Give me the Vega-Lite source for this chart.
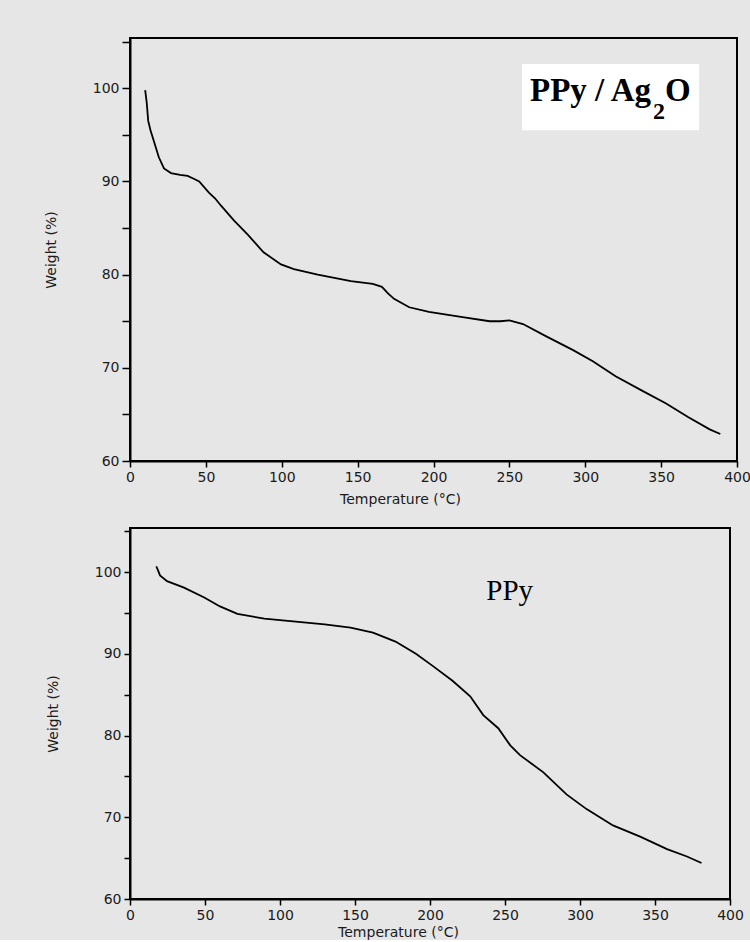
{
  "$schema": "https://vega.github.io/schema/vega-lite/v6.json",
  "background": "#e6e6e6",
  "padding": {"left": 43, "top": 33, "right": 0, "bottom": 0},
  "spacing": 16,
  "datasets": {
    "ag": [
      {"T": 10, "W": 99.8}, {"T": 11, "W": 98.5}, {"T": 12, "W": 96.5}, {"T": 13.5, "W": 95.5},
      {"T": 15.8, "W": 94.3}, {"T": 19, "W": 92.6}, {"T": 22.4, "W": 91.4}, {"T": 27, "W": 90.9},
      {"T": 33, "W": 90.7}, {"T": 38, "W": 90.6}, {"T": 42, "W": 90.3}, {"T": 45.6, "W": 90.0},
      {"T": 52, "W": 88.8}, {"T": 56, "W": 88.2}, {"T": 60, "W": 87.4}, {"T": 68.6, "W": 85.8},
      {"T": 77.6, "W": 84.3}, {"T": 88, "W": 82.4}, {"T": 99.5, "W": 81.1}, {"T": 108, "W": 80.6},
      {"T": 123.7, "W": 80.0}, {"T": 145.6, "W": 79.3}, {"T": 160, "W": 79.0}, {"T": 166, "W": 78.7},
      {"T": 170, "W": 78.0}, {"T": 174, "W": 77.4}, {"T": 184, "W": 76.5}, {"T": 197, "W": 76.0},
      {"T": 217, "W": 75.5}, {"T": 237, "W": 75.0}, {"T": 244, "W": 75.0}, {"T": 250, "W": 75.1},
      {"T": 259, "W": 74.7}, {"T": 274, "W": 73.4}, {"T": 292, "W": 71.9}, {"T": 305, "W": 70.7},
      {"T": 320, "W": 69.1}, {"T": 338, "W": 67.5}, {"T": 353, "W": 66.2}, {"T": 368, "W": 64.7},
      {"T": 382, "W": 63.4}, {"T": 389, "W": 62.9}
    ],
    "ppy": [
      {"T": 17.5, "W": 100.7}, {"T": 18.5, "W": 100.3}, {"T": 20, "W": 99.6}, {"T": 24.7, "W": 98.9},
      {"T": 36, "W": 98.1}, {"T": 49.5, "W": 96.9}, {"T": 60, "W": 95.8}, {"T": 71.6, "W": 94.9},
      {"T": 89.6, "W": 94.3}, {"T": 107, "W": 94.0}, {"T": 129.8, "W": 93.6}, {"T": 147, "W": 93.2},
      {"T": 162, "W": 92.6}, {"T": 177, "W": 91.5}, {"T": 190.6, "W": 90.0}, {"T": 202, "W": 88.5},
      {"T": 215, "W": 86.7}, {"T": 226.8, "W": 84.8}, {"T": 235.5, "W": 82.5}, {"T": 245.5, "W": 80.9},
      {"T": 253.5, "W": 78.8}, {"T": 260, "W": 77.6}, {"T": 275.6, "W": 75.5}, {"T": 291, "W": 72.8},
      {"T": 304.4, "W": 71.0}, {"T": 322, "W": 69.0}, {"T": 340.5, "W": 67.6}, {"T": 358, "W": 66.1},
      {"T": 371.3, "W": 65.2}, {"T": 381, "W": 64.4}
    ]
  },
  "config": {
    "view": {"stroke": "black", "strokeWidth": 2},
    "axis": {
      "labelFont": "DejaVu Sans", "labelFontSize": 14, "labelColor": "#1a1a1a",
      "titleFont": "DejaVu Sans", "titleFontSize": 14, "titleFontWeight": "normal", "titleColor": "#1a1a1a",
      "domainColor": "black", "domainWidth": 2, "tickColor": "black", "tickWidth": 1.5,
      "grid": false, "labelOverlap": false, "labelFlush": false
    }
  },
  "vconcat": [
    {
      "width": 607,
      "height": 423,
      "layer": [
        {
          "data": {"name": "ag"},
          "mark": {"type": "line", "color": "black", "strokeWidth": 1.8},
          "encoding": {
            "x": {"field": "T", "type": "quantitative", "scale": {"domain": [0, 400], "nice": false},
              "axis": {"title": "Temperature (°C)", "titleX": 270, "tickSize": 6, "labelPadding": 3, "titlePadding": 8,
                "values": [0,12.5,25,37.5,50,62.5,75,87.5,100,112.5,125,137.5,150,162.5,175,187.5,200,212.5,225,237.5,250,262.5,275,287.5,300,312.5,325,337.5,350,362.5,375,387.5,400],
                "labelExpr": "datum.value % 50 == 0 ? datum.label : ''"}},
            "y": {"field": "W", "type": "quantitative", "scale": {"domain": [60, 105.4], "nice": false, "zero": false},
              "axis": {"title": "Weight (%)", "tickSize": 8, "labelPadding": 3, "titlePadding": 34,
                "values": [60,62.5,65,67.5,70,72.5,75,77.5,80,82.5,85,87.5,90,92.5,95,97.5,100,102.5,105],
                "labelExpr": "datum.value % 10 == 0 ? datum.label : ''"}}
          }
        },
        {
          "data": {"values": [{"T1": 258.3, "T2": 375, "W1": 102.6, "W2": 95.5}]},
          "mark": {"type": "rect", "color": "white"},
          "encoding": {
            "x": {"field": "T1", "type": "quantitative"}, "x2": {"field": "T2"},
            "y": {"field": "W1", "type": "quantitative"}, "y2": {"field": "W2"}
          }
        },
        {
          "data": {"values": [{"T": 263.6, "W": 98.6, "label": "PPy / Ag"}]},
          "mark": {"type": "text", "font": "Liberation Serif", "fontWeight": "bold", "fontSize": 33, "align": "left", "baseline": "alphabetic", "color": "black"},
          "encoding": {"x": {"field": "T", "type": "quantitative"}, "y": {"field": "W", "type": "quantitative"}, "text": {"field": "label"}}
        },
        {
          "data": {"values": [{"T": 344.6, "W": 96.7, "label": "2"}]},
          "mark": {"type": "text", "font": "Liberation Serif", "fontWeight": "bold", "fontSize": 24, "align": "left", "baseline": "alphabetic", "color": "black"},
          "encoding": {"x": {"field": "T", "type": "quantitative"}, "y": {"field": "W", "type": "quantitative"}, "text": {"field": "label"}}
        },
        {
          "data": {"values": [{"T": 352.6, "W": 98.6, "label": "O"}]},
          "mark": {"type": "text", "font": "Liberation Serif", "fontWeight": "bold", "fontSize": 33, "align": "left", "baseline": "alphabetic", "color": "black"},
          "encoding": {"x": {"field": "T", "type": "quantitative"}, "y": {"field": "W", "type": "quantitative"}, "text": {"field": "label"}}
        }
      ]
    },
    {
      "width": 600,
      "height": 371,
      "layer": [
        {
          "data": {"name": "ppy"},
          "mark": {"type": "line", "color": "black", "strokeWidth": 1.8},
          "encoding": {
            "x": {"field": "T", "type": "quantitative", "scale": {"domain": [0, 400], "nice": false},
              "axis": {"title": "Temperature (°C)", "titleX": 268, "tickSize": 6, "labelPadding": 3, "titlePadding": 3,
                "values": [0,12.5,25,37.5,50,62.5,75,87.5,100,112.5,125,137.5,150,162.5,175,187.5,200,212.5,225,237.5,250,262.5,275,287.5,300,312.5,325,337.5,350,362.5,375,387.5,400],
                "labelExpr": "datum.value % 50 == 0 ? datum.label : ''"}},
            "y": {"field": "W", "type": "quantitative", "scale": {"domain": [60, 105.4], "nice": false, "zero": false},
              "axis": {"title": "Weight (%)", "tickSize": 6, "labelPadding": 3, "titlePadding": 34,
                "values": [60,62.5,65,67.5,70,72.5,75,77.5,80,82.5,85,87.5,90,92.5,95,97.5,100,102.5,105],
                "labelExpr": "datum.value % 10 == 0 ? datum.label : ''"}}
          }
        },
        {
          "data": {"values": [{"T": 237.5, "W": 96.6, "label": "PPy"}]},
          "mark": {"type": "text", "font": "Liberation Serif", "fontSize": 29, "align": "left", "baseline": "alphabetic", "color": "black"},
          "encoding": {"x": {"field": "T", "type": "quantitative"}, "y": {"field": "W", "type": "quantitative"}, "text": {"field": "label"}}
        }
      ]
    }
  ]
}
